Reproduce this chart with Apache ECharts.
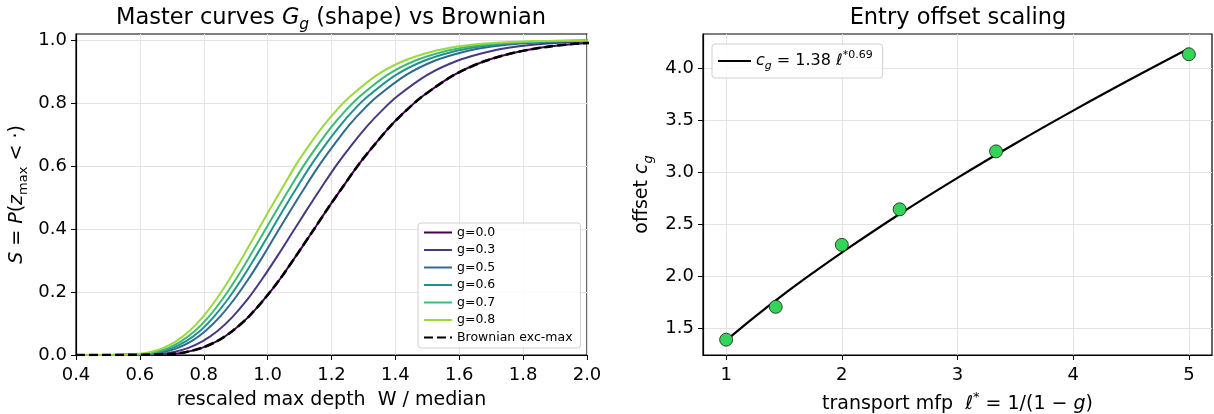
<!DOCTYPE html>
<html><head><meta charset="utf-8">
<script src="https://cdn.jsdelivr.net/npm/echarts@6/dist/echarts.min.js"></script>
<style>html,body{margin:0;padding:0;background:#fff}#c{width:1214px;height:414px}</style>
</head><body><div id="c"></div>
<script>
// ---------- Left panel: master curves (S levels shared, x positions read per curve) ----------
const sLevels = [0,0,0.0006,0.003,0.009,0.022,0.044,0.077,0.122,0.178,0.243,0.315,0.390,0.465,0.538,0.608,0.671,0.729,0.779,0.822,0.890,0.935,0.963,0.980,0.990,0.998,0.9996];
const xG00 = [0.4,0.495,0.594,0.693,0.743,0.792,0.842,0.891,0.941,0.990,1.040,1.089,1.139,1.188,1.238,1.287,1.337,1.386,1.436,1.485,1.584,1.683,1.782,1.881,1.980,2.178,2.376];
const xG03 = [0.4,0.469,0.563,0.656,0.703,0.750,0.797,0.844,0.891,0.938,0.984,1.031,1.078,1.125,1.172,1.219,1.266,1.313,1.360,1.406,1.500,1.594,1.688,1.781,1.875,2.063,2.250];
const xG05 = [0.4,0.448,0.538,0.627,0.672,0.717,0.762,0.806,0.851,0.896,0.941,0.986,1.030,1.075,1.120,1.165,1.210,1.254,1.299,1.344,1.434,1.523,1.613,1.702,1.792,1.971,2.150];
const xG06 = [0.4,0.438,0.526,0.613,0.657,0.701,0.745,0.789,0.832,0.876,0.920,0.964,1.008,1.051,1.095,1.139,1.183,1.227,1.270,1.314,1.402,1.490,1.577,1.665,1.752,1.928,2.103];
const xG07 = [0.4,0.430,0.516,0.602,0.645,0.688,0.730,0.773,0.816,0.859,0.902,0.945,0.988,1.031,1.074,1.117,1.160,1.203,1.246,1.289,1.375,1.461,1.547,1.633,1.719,1.891,2.063];
const xG08 = [0.4,0.420,0.504,0.588,0.630,0.672,0.714,0.756,0.798,0.840,0.882,0.924,0.966,1.008,1.050,1.091,1.133,1.175,1.217,1.259,1.343,1.427,1.511,1.595,1.679,1.847,2.015];
const xBrown = [0.4,0.495,0.594,0.693,0.743,0.792,0.842,0.891,0.941,0.990,1.040,1.089,1.139,1.188,1.238,1.287,1.337,1.386,1.436,1.485,1.584,1.683,1.782,1.881,1.980,2.178,2.376];
const curveNames = ['g=0.0','g=0.3','g=0.5','g=0.6','g=0.7','g=0.8'];
const curveColors = ['#440154','#453a82','#306a8e','#20938c','#3cbb75','#9bd93c'];
const brownName = 'Brownian exc-max';
const leftXTicks = [0.4,0.6,0.8,1.0,1.2,1.4,1.6,1.8,2.0];
const leftYTicks = [0,0.2,0.4,0.6,0.8,1.0];

// ---------- Right panel: entry offset scaling ----------
const lstar = [1, 1.4286, 2, 2.5, 3.3333, 5];
const offset = [1.387, 1.703, 2.30, 2.642, 3.20, 4.135];
const fitX = [1, 1.25, 1.5, 1.75, 2, 2.5, 3, 3.5, 4, 4.5, 5];
const fitY = [1.380, 1.610, 1.826, 2.030, 2.226, 2.597, 2.945, 3.276, 3.592, 3.896, 4.190];
const rightXTicks = [1,2,3,4,5];
const rightYTicks = [1.5,2.0,2.5,3.0,3.5,4.0];

const FONT = 'DejaVu Sans';
const pair = (xs, ys) => xs.map((x, i) => [x, ys[i]]);
const curveXs = [xG00, xG03, xG05, xG06, xG07, xG08];

const chart = echarts.init(document.getElementById('c'), null, {renderer: 'canvas'});

const gridStyle = {show: true, borderColor: '#000', borderWidth: 1.2, backgroundColor: 'transparent',
  containLabel: false, outerBoundsMode: 'none'};
const splitLine = {show: true, lineStyle: {color: '#e3e3e3', width: 1}};
const tick = (vals) => ({show: true, inside: false, length: 5, lineStyle: {color: '#000', width: 1}, customValues: vals});
const label = (vals, dec, m) => ({show: true, customValues: vals, margin: m, color: '#000', fontSize: 18, fontFamily: FONT,
  formatter: v => Number(v).toFixed(dec)});

const NF = 19;
const mainRich = {
  a: {fontSize: NF, fontFamily: FONT, color: '#000', lineHeight: 26},
  i: {fontSize: NF, fontFamily: FONT, fontStyle: 'italic', color: '#000', lineHeight: 26},
  s: {fontSize: 13, fontFamily: FONT, color: '#000', verticalAlign: 'bottom', lineHeight: 26},
  si: {fontSize: 13, fontFamily: FONT, fontStyle: 'italic', color: '#000', verticalAlign: 'bottom', lineHeight: 26},
  p: {fontSize: 13, fontFamily: FONT, color: '#000', verticalAlign: 'top', lineHeight: 26}
};

const series = [];
curveNames.forEach((n, k) => {
  series.push({
    name: n, type: 'line', xAxisIndex: 0, yAxisIndex: 0,
    data: pair(curveXs[k], sLevels), showSymbol: false, symbol: 'none',
    smooth: 0.3, clip: true,
    lineStyle: {color: curveColors[k], width: 2}, itemStyle: {color: curveColors[k]}
  });
});
series.push({
  name: brownName, type: 'line', xAxisIndex: 0, yAxisIndex: 0,
  data: pair(xBrown, sLevels), showSymbol: false, symbol: 'none',
  smooth: 0.3, clip: true,
  lineStyle: {color: '#000', width: 2.6, type: [9, 4]}, itemStyle: {color: '#000'}
});
series.push({
  name: 'fit', type: 'line', xAxisIndex: 1, yAxisIndex: 1,
  data: pair(fitX, fitY), showSymbol: false, symbol: 'none', smooth: 0.4,
  lineStyle: {color: '#000', width: 2.2}, itemStyle: {color: '#000'}, z: 3
});
series.push({
  name: 'data', type: 'scatter', xAxisIndex: 1, yAxisIndex: 1,
  data: pair(lstar, offset), symbolSize: 13,
  itemStyle: {color: '#33d458', borderColor: '#1a1a1a', borderWidth: 0.8, opacity: 1}, z: 5
});

chart.setOption({
  animation: false,
  backgroundColor: '#fff',
  textStyle: {fontFamily: FONT},
  grid: [
    Object.assign({left: 76, top: 34, width: 511, height: 321}, gridStyle),
    Object.assign({left: 703, top: 34, width: 509, height: 321}, gridStyle)
  ],
  xAxis: [
    {type: 'value', gridIndex: 0, min: 0.4, max: 2.0, interval: 0.2,
     axisLine: {show: true, lineStyle: {color: '#000', width: 1.2}},
     axisTick: tick(leftXTicks), axisLabel: label(leftXTicks, 1, 11), splitLine: splitLine,
     name: 'rescaled max depth  W / median', nameLocation: 'middle', nameGap: 36,
     nameTextStyle: {fontSize: NF, fontFamily: FONT, color: '#000'}},
    {type: 'value', gridIndex: 1, min: 0.8, max: 5.2, splitNumber: 5,
     axisLine: {show: true, lineStyle: {color: '#000', width: 1.2}},
     axisTick: tick(rightXTicks), axisLabel: label(rightXTicks, 0, 11), splitLine: splitLine,
     name: '{a|transport mfp  }{i|ℓ}{p|*}{a| = 1/(1 − }{i|g}{a|)}', nameLocation: 'middle', nameGap: 36,
     nameTextStyle: {fontSize: NF, fontFamily: FONT, color: '#000', rich: mainRich}}
  ],
  yAxis: [
    {type: 'value', gridIndex: 0, min: 0, max: 1.02, interval: 0.2,
     axisLine: {show: true, lineStyle: {color: '#000', width: 1.2}},
     axisTick: tick(leftYTicks), axisLabel: label(leftYTicks, 1, 9), splitLine: splitLine,
     name: '{i|S}{a| = }{i|P}{a|(}{i|z}{s|max}{a| < ·)}', nameLocation: 'middle', nameGap: 46,
     nameTextStyle: {fontSize: NF, fontFamily: FONT, color: '#000', rich: mainRich}},
    {type: 'value', gridIndex: 1, min: 1.2395, max: 4.33, splitNumber: 5,
     axisLine: {show: true, lineStyle: {color: '#000', width: 1.2}},
     axisTick: tick(rightYTicks), axisLabel: label(rightYTicks, 1, 9), splitLine: splitLine,
     name: '{a|offset }{i|c}{si|g}', nameLocation: 'middle', nameGap: 48,
     nameTextStyle: {fontSize: NF, fontFamily: FONT, color: '#000', rich: mainRich}}
  ],
  legend: [
    {data: curveNames.concat([brownName]), orient: 'vertical', left: 418, top: 223,
     itemWidth: 28, itemHeight: 12, itemGap: 4.5, padding: [3, 8, 4, 5],
     itemStyle: {opacity: 0, borderWidth: 0},
     backgroundColor: 'rgba(255,255,255,0.85)', borderColor: '#d0d0d0', borderWidth: 1, borderRadius: 3,
     textStyle: {fontSize: 12.5, fontFamily: FONT, color: '#000'}, selectedMode: false},
    {data: ['fit'], orient: 'vertical', left: 712, top: 44,
     itemWidth: 33, itemHeight: 14, padding: [6, 10, 6, 5],
     itemStyle: {opacity: 0, borderWidth: 0},
     backgroundColor: 'rgba(255,255,255,0.85)', borderColor: '#d0d0d0', borderWidth: 1, borderRadius: 3,
     formatter: () => '{i|c}{si|g}{a| = 1.38 }{i|ℓ}{p|*0.69}',
     textStyle: {fontSize: 16, fontFamily: FONT, color: '#000', rich: {
       a: {fontSize: 16, fontFamily: FONT, color: '#000', lineHeight: 22},
       i: {fontSize: 16, fontFamily: FONT, fontStyle: 'italic', color: '#000', lineHeight: 22},
       si: {fontSize: 11, fontFamily: FONT, fontStyle: 'italic', color: '#000', verticalAlign: 'bottom', lineHeight: 22},
       p: {fontSize: 11, fontFamily: FONT, color: '#000', verticalAlign: 'top', lineHeight: 22}
     }}, selectedMode: false}
  ],
  graphic: [
    {type: 'text', x: 331, y: 18, style: {
      text: '{a|Master curves }{i|G}{s|g}{a| (shape) vs Brownian}', align: 'center', verticalAlign: 'middle',
      rich: {
        a: {fontSize: 22.5, fontFamily: FONT, fill: '#000', lineHeight: 30},
        i: {fontSize: 22.5, fontFamily: FONT, fontStyle: 'italic', fill: '#000', lineHeight: 30},
        s: {fontSize: 15.5, fontFamily: FONT, fontStyle: 'italic', fill: '#000', verticalAlign: 'bottom', lineHeight: 30}
      }}},
    {type: 'text', x: 958, y: 18, style: {
      text: 'Entry offset scaling', align: 'center', verticalAlign: 'middle',
      fontSize: 22.5, fontFamily: FONT, fill: '#000'}}
  ],
  series: series
});
</script></body></html>
